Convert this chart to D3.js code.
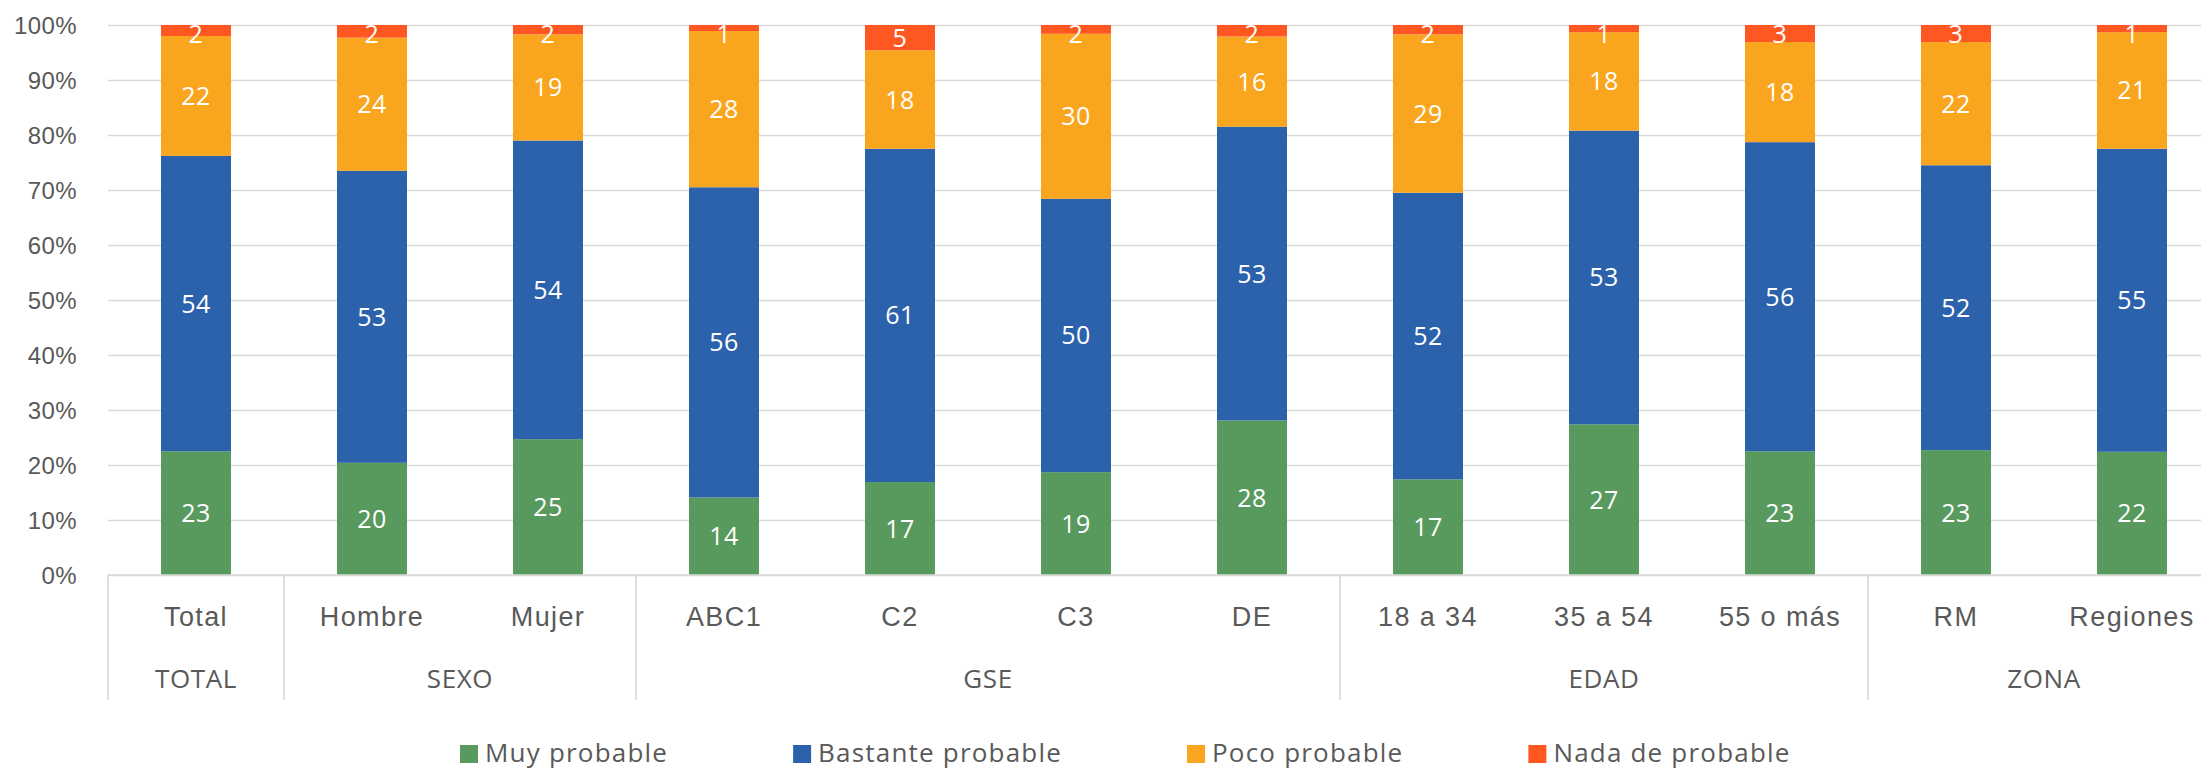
<!DOCTYPE html>
<html>
<head>
<meta charset="utf-8">
<script src="https://cdn.jsdelivr.net/npm/d3@7"></script>
<style>
  html, body { margin: 0; padding: 0; background: #ffffff; }
  svg { display: block; font-family: "Open Sans", "Noto Sans", sans-serif; }
</style>
</head>
<body>
<svg id="chart" width="2201" height="770"></svg>
<script>
// Categories and the group each one belongs to
const categories = ["Total", "Hombre", "Mujer", "ABC1", "C2", "C3", "DE", "18 a 34", "35 a 54", "55 o más", "RM", "Regiones"];
const groupOf = ["TOTAL", "SEXO", "SEXO", "GSE", "GSE", "GSE", "GSE", "EDAD", "EDAD", "EDAD", "ZONA", "ZONA"];
const groupNames = ["TOTAL", "SEXO", "GSE", "EDAD", "ZONA"];

// Series (percent of respondents)
const seriesNames = ["Muy probable", "Bastante probable", "Poco probable", "Nada de probable"];
const muyProbable      = [22.5, 20.4, 24.7, 14.1, 16.9, 18.7, 28.1, 17.4, 27.4, 22.5, 22.7, 22.4];
const bastanteProbable = [53.7, 53.1, 54.3, 56.4, 60.6, 49.7, 53.4, 52.1, 53.4, 56.2, 51.8, 55.1];
const pocoProbable     = [21.8, 24.2, 19.3, 28.4, 17.9, 30.0, 16.4, 28.8, 17.9, 18.2, 22.4, 21.2];
const nadaProbable     = [ 2.0,  2.3,  1.7,  1.1,  4.6,  1.6,  2.1,  1.7,  1.3,  3.1,  3.1,  1.3];
const seriesColors = ["#589A5D", "#2C62AC", "#F9A51E", "#FF5722"];

// Value axis ticks
const yTicks = [0, 10, 20, 30, 40, 50, 60, 70, 80, 90, 100];

const textColor = "#595959";
const gridColor = "#D9D9D9";

const svg = d3.select("#chart");
const plotLeft = 108, plotRight = 2220, plotTop = 25, plotBottom = 575;

const rows = categories.map((c, i) => ({
  category: c,
  [seriesNames[0]]: muyProbable[i],
  [seriesNames[1]]: bastanteProbable[i],
  [seriesNames[2]]: pocoProbable[i],
  [seriesNames[3]]: nadaProbable[i]
}));

const x = d3.scaleBand()
  .domain(categories)
  .range([plotLeft, plotRight])
  .paddingInner(106 / 176)
  .paddingOuter(53 / 176);

const y = d3.scaleLinear().domain([0, 100]).range([plotBottom, plotTop]);
const color = d3.scaleOrdinal().domain(seriesNames).range(seriesColors);

// Horizontal gridlines
const grid = svg.append("g")
  .attr("transform", `translate(${plotLeft},0)`)
  .call(d3.axisLeft(y).tickValues(yTicks).tickSize(-(plotRight - plotLeft)).tickFormat(""));
grid.select(".domain").remove();
grid.selectAll(".tick line").attr("stroke", gridColor).attr("stroke-width", 1.6);

// Percentage labels
const yAxis = svg.append("g")
  .attr("transform", `translate(${plotLeft - 31},0)`)
  .call(d3.axisLeft(y).tickValues(yTicks).tickSize(0).tickPadding(0).tickFormat(d => d + "%"));
yAxis.select(".domain").remove();
yAxis.selectAll("text")
  .attr("fill", textColor)
  .style("font-size", "24px")
  .style("letter-spacing", "0.4px")
  .attr("dy", "0.35em");

// Stacked bars
const stacked = d3.stack().keys(seriesNames)(rows);

const layers = svg.append("g").selectAll("g")
  .data(stacked)
  .join("g")
  .attr("fill", d => color(d.key));

layers.selectAll("rect")
  .data(d => d)
  .join("rect")
  .attr("x", d => x(d.data.category))
  .attr("width", x.bandwidth())
  .attr("y", d => y(d[1]))
  .attr("height", d => y(d[0]) - y(d[1]));

// Value labels, centred on each segment and kept inside the plot top
const labels = svg.append("g").selectAll("g")
  .data(stacked)
  .join("g");

labels.selectAll("text")
  .data(d => d.map(v => ({ v, key: d.key })))
  .join("text")
  .attr("x", d => x(d.v.data.category) + x.bandwidth() / 2)
  .attr("y", d => Math.max(y((d.v[0] + d.v[1]) / 2), plotTop + 8.5))
  .attr("dy", "0.36em")
  .attr("text-anchor", "middle")
  .attr("fill", "#ffffff")
  .style("font-size", "25px")
  .style("letter-spacing", "0.5px")
  .text(d => Math.round(d.v.data[d.key]));

// Category axis baseline
svg.append("line")
  .attr("x1", plotLeft).attr("x2", plotRight)
  .attr("y1", plotBottom).attr("y2", plotBottom)
  .attr("stroke", gridColor).attr("stroke-width", 1.6);

// Category labels
const xAxis = svg.append("g")
  .attr("transform", `translate(0,${plotBottom})`)
  .call(d3.axisBottom(x).tickSize(0).tickPadding(0));
xAxis.select(".domain").remove();
xAxis.selectAll("text")
  .attr("y", 42)
  .attr("dy", "0.35em")
  .attr("fill", textColor)
  .style("font-size", "27px")
  .style("letter-spacing", "1.4px");

// Group labels and dividers
const groups = groupNames.map(g => {
  const members = categories.filter((c, i) => groupOf[i] === g);
  const x0 = x(members[0]) - x.step() * x.paddingInner() / 2;
  const x1 = x(members[members.length - 1]) + x.bandwidth() + x.step() * x.paddingInner() / 2;
  return { name: g, x0, x1 };
});

const groupLayer = svg.append("g");
const dividers = [groups[0].x0].concat(groups.map(g => g.x1));
groupLayer.selectAll("line")
  .data(dividers)
  .join("line")
  .attr("x1", d => d).attr("x2", d => d)
  .attr("y1", plotBottom).attr("y2", 700)
  .attr("stroke", gridColor).attr("stroke-width", 1.6);

groupLayer.selectAll("text")
  .data(groups)
  .join("text")
  .attr("x", d => (d.x0 + d.x1) / 2)
  .attr("y", 679)
  .attr("dy", "0.35em")
  .attr("text-anchor", "middle")
  .attr("fill", textColor)
  .style("font-size", "26px")
  .style("letter-spacing", "0.6px")
  .text(d => d.name);

// Legend
const legend = svg.append("g");
let lx = 460;
seriesNames.forEach(name => {
  const item = legend.append("g").attr("transform", `translate(${lx},0)`);
  item.append("rect")
    .attr("x", 0).attr("y", 745)
    .attr("width", 18).attr("height", 18)
    .attr("fill", color(name));
  const t = item.append("text")
    .attr("x", 25).attr("y", 753)
    .attr("dy", "0.35em")
    .attr("fill", textColor)
    .style("font-size", "26px")
    .style("letter-spacing", "1.2px")
    .text(name);
  lx += 25 + t.node().getComputedTextLength() + 125;
});
</script>
</body>
</html>
